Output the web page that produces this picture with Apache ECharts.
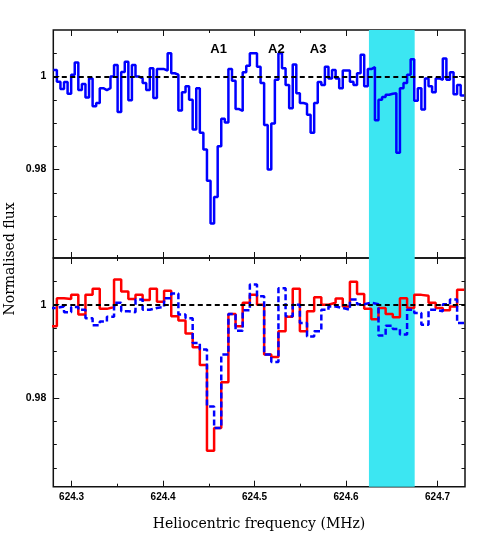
<!DOCTYPE html>
<html><head><meta charset="utf-8">
<script src="https://cdn.jsdelivr.net/npm/echarts@6/dist/echarts.min.js"></script>
<style>html,body{margin:0;padding:0;background:#fff}#c{width:491px;height:545px}</style>
</head><body><div id="c"></div>
<script>
// ---- data ----
const freqStart = 624.28;        // MHz, left edge of first channel
const chanWidth = 0.003906;      // MHz, single channel
const topFlux = [1.0014,0.9989,0.9973,0.9988,0.9963,1.0004,1.0030,0.9971,0.9984,0.9955,
 0.9996,0.9936,0.9943,0.9975,0.9971,0.9975,1.0000,1.0025,0.9924,1.0010,
 1.0032,0.9949,1.0025,1.0000,0.9996,0.9986,0.9971,1.0018,0.9954,1.0016,
 1.0016,1.0013,1.0050,1.0007,1.0004,0.9927,0.9966,0.9979,0.9950,0.9886,
 0.9975,0.9879,0.9843,0.9776,0.9684,0.9741,0.9850,0.9909,0.9901,1.0016,
 0.9991,0.9930,0.9926,1.0009,1.0023,1.0050,1.0050,1.0021,0.9986,0.9896,
 0.9800,0.9899,0.9993,1.0050,1.0018,0.9982,0.9932,1.0026,0.9964,0.9943,
 0.9941,0.9918,0.9879,0.9943,0.9988,0.9982,1.0021,0.9996,1.0014,0.9996,
 0.9975,1.0013,1.0013,0.9989,0.9982,1.0007,1.0047,0.9979,1.0016,1.0020,
 0.9906,0.9950,0.9956,0.9961,0.9963,0.9964,0.9836,0.9975,0.9986,1.0004,
 1.0037,0.9948,0.9975,0.9929,0.9996,0.9979,0.9966,0.9996,0.9993,1.0039,
 0.9993,1.0009,0.9962,0.9982,0.9959];
const redFlux = [0.9954,1.0014,1.0012,1.0021,0.9979,1.0021,1.0034,0.9991,0.9995,1.0054,
 1.0028,1.0012,1.0021,1.0010,1.0034,1.0006,1.0030,0.9975,0.9966,0.9938,
 0.9909,0.9871,0.9687,0.9736,0.9834,0.9980,0.9954,1.0004,1.0021,1.0000,
 0.9893,0.9888,0.9943,0.9974,1.0034,0.9943,0.9986,1.0016,1.0000,1.0004,
 1.0013,0.9996,1.0049,1.0023,0.9991,0.9969,0.9993,0.9980,0.9973,1.0014,
 0.9993,1.0021,1.0019,1.0004,0.9993,0.9988,0.9996,1.0032];
const blueFlux = [0.9993,0.9996,0.9984,0.9995,0.9989,0.9971,0.9956,0.9964,0.9974,1.0004,
 0.9986,0.9984,1.0011,0.9989,0.9993,0.9995,1.0014,1.0024,0.9979,0.9971,
 0.9918,0.9904,0.9782,0.9736,0.9893,0.9980,0.9944,0.9988,1.0043,1.0018,
 0.9893,0.9877,1.0035,0.9975,1.0000,0.9961,0.9932,0.9943,0.9989,0.9996,
 0.9993,0.9989,1.0011,1.0001,1.0004,1.0001,0.9934,0.9955,0.9948,0.9936,
 0.9989,0.9982,0.9957,0.9989,0.9986,1.0001,1.0011,0.9961];
const xRange = [624.28, 624.73];
const yRange = [0.961, 1.01];
const xMajor = [624.3, 624.4, 624.5, 624.6, 624.7];
const xMinor = [624.35, 624.45, 624.55, 624.65];
const yMajor = [0.98, 1];
const yMinor = [0.965, 0.97, 0.975, 0.985, 0.99, 0.995, 1.005];
const band = [624.625, 624.675];
const continuum = 1;
const compNames = ['A1', 'A2', 'A3'];
const compFreqs = [624.4607, 624.5238, 624.5695];
const compLevel = 1.0059;

// ---- helpers ----
function steps(vals, x0, w) {
  const d = vals.map((v, i) => [x0 + w * i, v]);
  d.push([x0 + w * vals.length, vals[vals.length - 1]]);
  return d;
}
const L = 53.3, W = 411.7;
const grids = [
  {left: L, top: 30, width: W, height: 228, show: true, borderColor: '#111', borderWidth: 1.5},
  {left: L, top: 258, width: W, height: 228.7, show: true, borderColor: '#111', borderWidth: 1.5}
];
const xAxes = [], yAxes = [];
[0, 1].forEach(g => {
  [['bottom', xMajor, 6], ['bottom', xMinor, 3], ['top', xMajor, 6], ['top', xMinor, 3]].forEach((a, k) => {
    xAxes.push({
      type: 'value', gridIndex: g, position: a[0], min: xRange[0], max: xRange[1],
      axisLine: {show: false}, splitLine: {show: false},
      axisTick: {show: true, inside: true, length: a[2], customValues: a[1], lineStyle: {color: '#111', width: 1}},
      axisLabel: {show: g === 1 && k === 0, customValues: xMajor, formatter: v => v.toFixed(1),
        color: '#000', fontSize: 10, fontWeight: 'bold', fontFamily: 'Liberation Sans, Arial', margin: 6}
    });
  });
  [['left', yMajor, 6], ['left', yMinor, 3.5], ['right', yMajor, 6], ['right', yMinor, 3.5]].forEach((a, k) => {
    yAxes.push({
      type: 'value', gridIndex: g, position: a[0], min: yRange[0], max: yRange[1],
      axisLine: {show: false}, splitLine: {show: false},
      axisTick: {show: true, inside: true, length: a[2], customValues: a[1], lineStyle: {color: '#111', width: 1}},
      axisLabel: {show: k === 0, customValues: yMajor, formatter: v => (v === 1 ? '1' : String(v)),
        color: '#000', fontSize: 10.5, fontWeight: 'bold', fontFamily: 'Liberation Sans, Arial', margin: 7}
    });
  });
});

function decor(g) {
  return {
    type: 'line', xAxisIndex: g * 4, yAxisIndex: g * 4, data: [], z: 1, silent: true,
    markArea: {silent: true, itemStyle: {color: '#3ce6f2', opacity: 1},
      data: [[{xAxis: band[0]}, {xAxis: band[1]}]]},
    markLine: {silent: true, symbol: ['none', 'none'], label: {show: false}, z: 5,
      lineStyle: {color: '#000', width: 2, type: [5, 3.5]}, data: [{yAxis: continuum}]}
  };
}

const option = {
  animation: false,
  grid: grids,
  xAxis: xAxes,
  yAxis: yAxes,
  series: [
    decor(0), decor(1),
    {type: 'line', xAxisIndex: 0, yAxisIndex: 0, step: 'end', symbol: 'none', z: 3,
     data: steps(topFlux, freqStart, chanWidth), lineStyle: {color: '#0000ff', width: 2.5}},
    {type: 'line', xAxisIndex: 4, yAxisIndex: 4, step: 'end', symbol: 'none', z: 3,
     data: steps(redFlux, freqStart - chanWidth, 2 * chanWidth), lineStyle: {color: '#ff0000', width: 2.5}},
    {type: 'line', xAxisIndex: 4, yAxisIndex: 4, step: 'end', symbol: 'none', z: 4,
     data: steps(blueFlux, freqStart - chanWidth, 2 * chanWidth), lineStyle: {color: '#0000ff', width: 2.5, type: [6, 3]}},
    {type: 'scatter', xAxisIndex: 0, yAxisIndex: 0, symbolSize: 0, z: 6,
     itemStyle: {opacity: 1},
     data: compFreqs.map((f, i) => [f, compLevel, compNames[i]]),
     label: {show: true, position: 'inside', formatter: p => p.value[2], color: '#000', opacity: 1,
       fontSize: 13, fontWeight: 'bold', fontFamily: 'Liberation Sans, Arial'}}
  ],
  graphic: [
    {type: 'text', x: 259, y: 517, style: {text: 'Heliocentric frequency (MHz)',
      font: '14px "DejaVu Serif"', fill: '#000', align: 'center', verticalAlign: 'top'}},
    {type: 'text', x: 3, y: 259, rotation: Math.PI / 2,
      style: {text: 'Normalised flux', font: '14px "DejaVu Serif"', fill: '#000', align: 'center', verticalAlign: 'top'}}
  ]
};
const chart = echarts.init(document.getElementById('c'), null, {renderer: 'canvas'});
chart.setOption(option);
</script></body></html>
